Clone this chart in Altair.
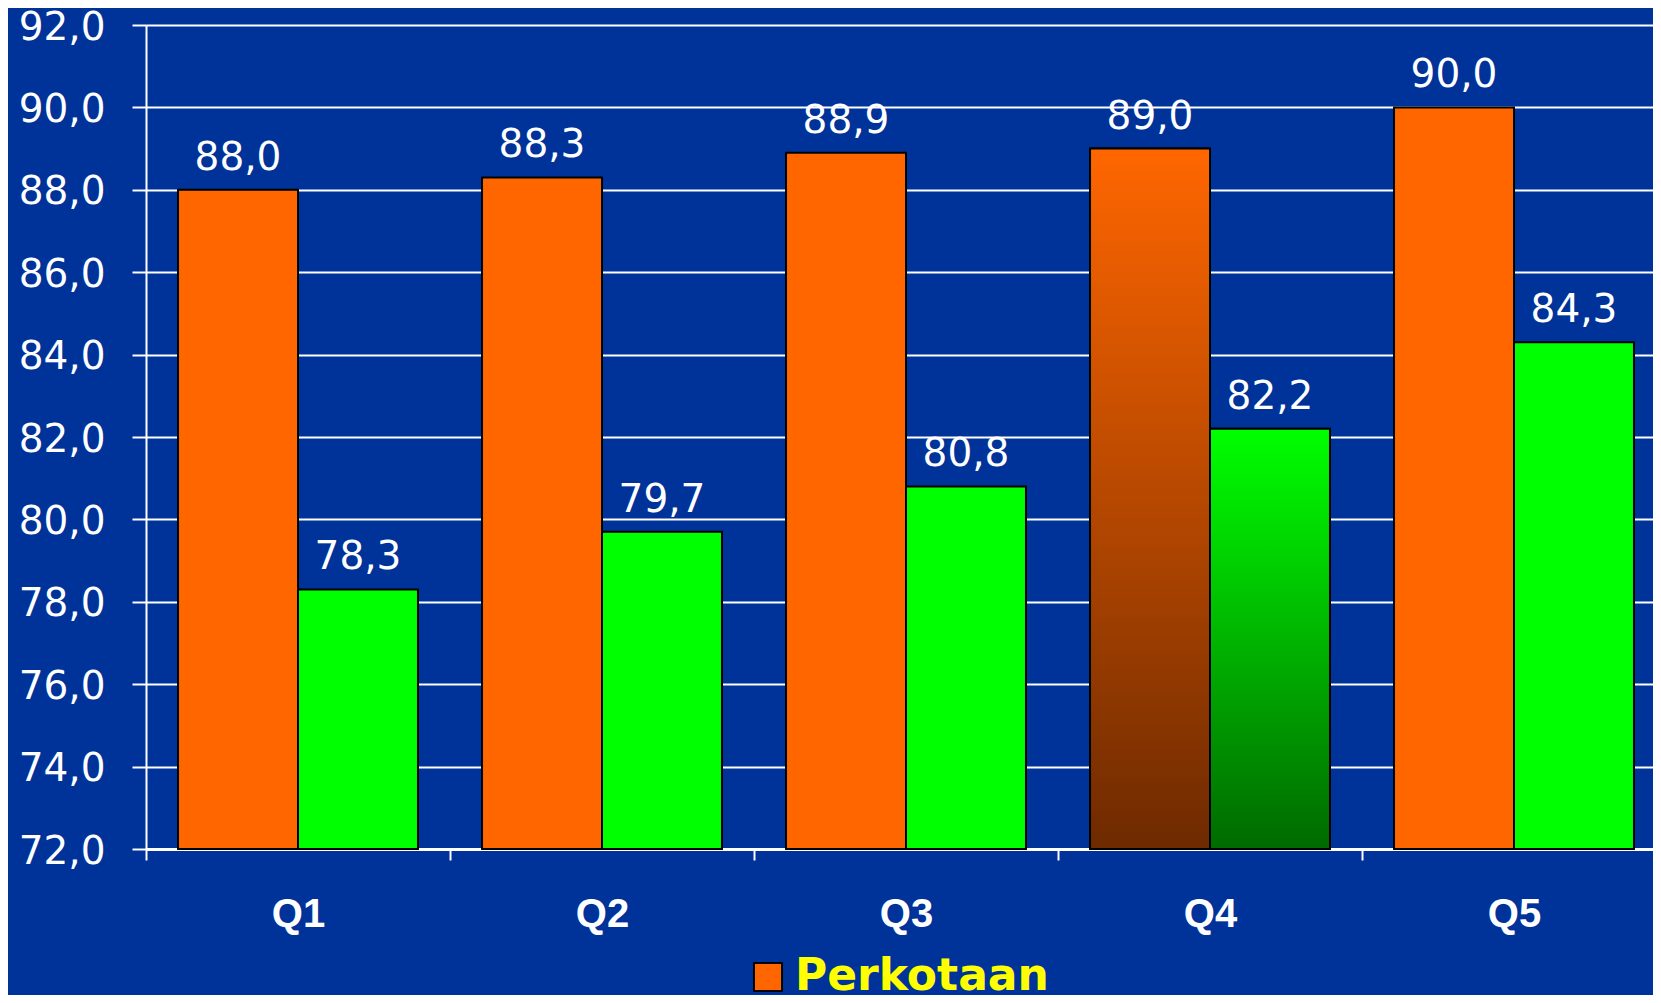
import altair as alt
import pandas as pd

categories = ["Q1", "Q2", "Q3", "Q4", "Q5"]
series_names = ["Perkotaan", "Perdesaan"]
perkotaan = [88.0, 88.3, 88.9, 89.0, 90.0]
perdesaan = [78.3, 79.7, 80.8, 82.2, 84.3]
y_ticks = [72, 74, 76, 78, 80, 82, 84, 86, 88, 90, 92]
Y_MIN, Y_MAX = 72, 92
highlight_cat = "Q4"

rows = []
for c, a, b in zip(categories, perkotaan, perdesaan):
    rows.append({"cat": c, "series": series_names[0], "value": a})
    rows.append({"cat": c, "series": series_names[1], "value": b})
df = pd.DataFrame(rows)

BG = "#003399"
FONT = "Liberation Sans"
NUMFONT = "DejaVu Sans"

x_enc = alt.X("cat:N", sort=categories,
              scale=alt.Scale(paddingInner=0, paddingOuter=0),
              axis=alt.Axis(title=None, labelAngle=0, labelFont=FONT, labelFontSize=40,
                            labelFontWeight="bold", labelColor="white", labelPadding=34,
                            tickBand="extent", ticks=True, tickColor="white", tickSize=11,
                            tickWidth=2, domainColor="white", domainWidth=3, grid=False))
xoff_enc = alt.XOffset("series:N", sort=series_names,
                       scale=alt.Scale(domain=series_names, paddingOuter=0.267, paddingInner=0))
y_enc = alt.Y("value:Q",
              scale=alt.Scale(domain=[Y_MIN, Y_MAX], zero=False, nice=False),
              axis=alt.Axis(title=None, values=y_ticks,
                            labelExpr="replace(format(datum.value, '.1f'), '.', ',')",
                            labelFont=NUMFONT, labelFontSize=39, labelColor="white",
                            labelPadding=27, labelOffset=2, tickColor="white", tickSize=14,
                            tickWidth=2, domainColor="white", domainWidth=2, grid=True,
                            gridColor="white", gridWidth=2, gridOpacity=1))

base = alt.Chart(df)

bars = base.mark_bar(stroke="black", strokeWidth=2).encode(
    x=x_enc,
    xOffset=xoff_enc,
    y=y_enc,
    y2=alt.datum(Y_MIN),
    color=alt.Color("series:N", sort=series_names,
                    scale=alt.Scale(domain=series_names, range=["#FF6600", "#00FF00"]),
                    legend=alt.Legend(orient="none", legendX=600, legendY=930,
                                      direction="vertical", title=None,
                                      symbolType="square", symbolSize=784,
                                      symbolStrokeColor="black", symbolStrokeWidth=2,
                                      symbolOpacity=1,
                                      labelColor="#FFFF00", labelFont=NUMFONT,
                                      labelFontSize=44, labelFontWeight="bold",
                                      labelOffset=5, labelLimit=0, padding=0,
                                      rowPadding=20)),
)

def grad(top, bottom):
    return alt.LinearGradient(gradient="linear", x1=0, x2=0, y1=0, y2=1,
                              stops=[alt.GradientStop(color=top, offset=0),
                                     alt.GradientStop(color=bottom, offset=1)])

g_orange = base.transform_filter(
    (alt.datum.cat == highlight_cat) & (alt.datum.series == series_names[0])
).mark_bar(fill=grad("#FF6600", "#6E2A00"), stroke="black", strokeWidth=2).encode(
    x=x_enc, xOffset=xoff_enc, y=y_enc, y2=alt.datum(Y_MIN))

g_green = base.transform_filter(
    (alt.datum.cat == highlight_cat) & (alt.datum.series == series_names[1])
).mark_bar(fill=grad("#00FF00", "#006A00"), stroke="black", strokeWidth=2).encode(
    x=x_enc, xOffset=xoff_enc, y=y_enc, y2=alt.datum(Y_MIN))

labels = base.transform_calculate(
    label="replace(format(datum.value, '.1f'), '.', ',')"
).mark_text(font=NUMFONT, fontSize=39, color="white", baseline="alphabetic", dy=-20).encode(
    x=x_enc, xOffset=xoff_enc, y=y_enc, text="label:N")

chart = alt.layer(bars, g_orange, g_green, labels).properties(
    width=1520, height=824,
    background=BG,
    autosize=alt.AutoSizeParams(type="none"),
    padding={"left": 138, "top": 17, "right": -13, "bottom": 146},
).configure_view(stroke=None)

chart.save("out.html", embed_options={"renderer": "svg", "actions": False})
